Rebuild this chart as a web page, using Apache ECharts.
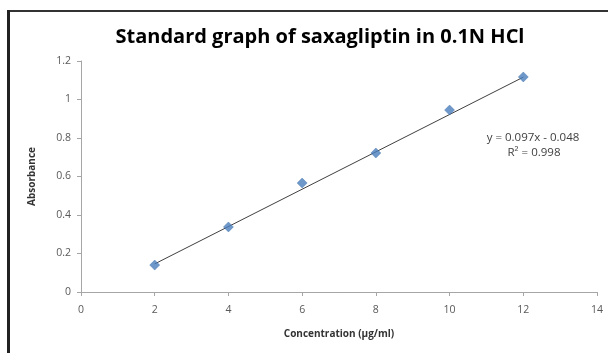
<!DOCTYPE html>
<html><head><meta charset="utf-8">
<script src="https://cdn.jsdelivr.net/npm/echarts@6/dist/echarts.min.js"></script>
<style>html,body{margin:0;padding:0;background:#fff}#c{width:608px;height:353px}</style>
</head><body><div id="c"></div>
<script>
const concentration = [2, 4, 6, 8, 10, 12];
const absorbance = [0.14, 0.338, 0.566, 0.722, 0.945, 1.117];
const trendX = [2, 12];
const trendY = [0.146, 1.116];
const xTicks = [0, 2, 4, 6, 8, 10, 12, 14];
const yTicks = [0, 0.2, 0.4, 0.6, 0.8, 1, 1.2];
const titleText = 'Standard graph of saxagliptin in 0.1N HCl';
const eqLines = ['y = 0.097x - 0.048', 'R² = 0.998'];

const chart = echarts.init(document.getElementById('c'), null, {renderer: 'canvas'});
const labelColor = '#595959';
chart.setOption({
  animation: false,
  backgroundColor: '#fff',
  title: {
    text: titleText, left: 315, top: 22, textAlign: 'center',
    textStyle: {fontFamily: 'Open Sans', fontWeight: 'bold', fontSize: 20, color: '#000'}
  },
  grid: {left: 81, right: 11, top: 61, bottom: 61},
  xAxis: {
    type: 'value', min: 0, max: 14, interval: 2,
    name: 'Concentration (µg/ml)', nameLocation: 'middle', nameGap: 37,
    nameTextStyle: {fontFamily: 'Open Sans', fontSize: 10, fontWeight: 'bold', color: '#333'},
    axisLine: {show: true, lineStyle: {color: '#a6a6a6', width: 1}},
    axisTick: {show: true, length: 4, inside: false, lineStyle: {color: '#a6a6a6'}},
    axisLabel: {fontFamily: 'Open Sans', fontSize: 10.5, color: labelColor, margin: 13,
      formatter: v => xTicks.includes(v) ? String(v) : ''},
    splitLine: {show: false}
  },
  yAxis: {
    type: 'value', min: 0, max: 1.2, interval: 0.2,
    name: 'Absorbance', nameLocation: 'middle', nameGap: 44, nameRotate: 90,
    nameTextStyle: {fontFamily: 'Open Sans', fontSize: 10, fontWeight: 'bold', color: '#333'},
    axisLine: {show: true, lineStyle: {color: '#a6a6a6', width: 1}},
    axisTick: {show: true, length: 4, inside: false, lineStyle: {color: '#a6a6a6'}},
    axisLabel: {fontFamily: 'Open Sans', fontSize: 10.5, color: labelColor, margin: 10,
      formatter: v => { const t = yTicks.find(k => Math.abs(k - v) < 1e-9); return t === undefined ? '' : String(t); }},
    splitLine: {show: false}
  },
  series: [
    {
      type: 'line', data: trendX.map((x, i) => [x, trendY[i]]),
      symbol: 'none', lineStyle: {color: '#404040', width: 1}, z: 2, silent: true
    },
    {
      type: 'scatter', data: concentration.map((x, i) => [x, absorbance[i]]),
      symbol: 'diamond', symbolSize: 10,
      itemStyle: {color: '#4a7ebb', borderColor: '#3f6fa8', borderWidth: 0.5}, z: 3
    }
  ],
  graphic: [
    {type: 'rect', shape: {x: 7, y: 10, width: 601, height: 2}, style: {fill: '#333'}, silent: true},
    {type: 'rect', shape: {x: 7, y: 10, width: 3, height: 343}, style: {fill: '#222'}, silent: true},
    {type: 'text', x: 533, y: 138, style: {text: eqLines[0], fontFamily: 'Open Sans', fontSize: 11.5, fill: '#404040', align: 'center', verticalAlign: 'middle'}},
    {type: 'text', x: 534, y: 153, style: {text: eqLines[1], fontFamily: 'Open Sans', fontSize: 11.5, fill: '#404040', align: 'center', verticalAlign: 'middle'}}
  ]
});
</script></body></html>
